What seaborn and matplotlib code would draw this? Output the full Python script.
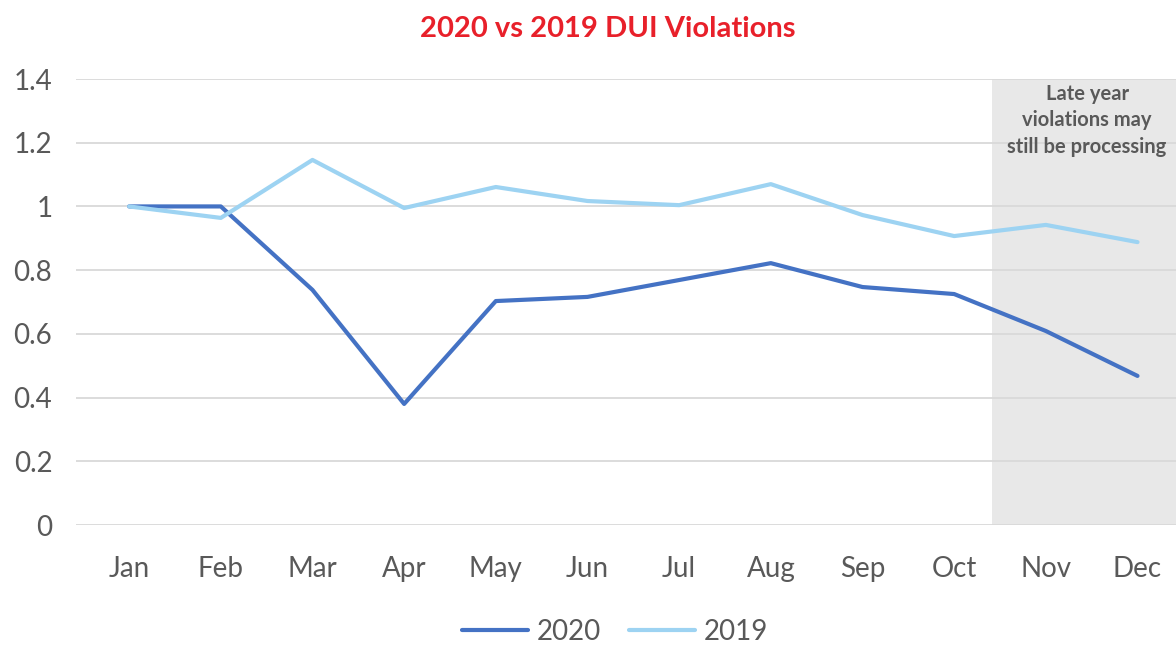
import pandas as pd
import seaborn as sns
import matplotlib.pyplot as plt

months = ['Jan', 'Feb', 'Mar', 'Apr', 'May', 'Jun', 'Jul', 'Aug', 'Sep', 'Oct', 'Nov', 'Dec']
v2020 = [1.0, 1.0, 0.738, 0.38, 0.703, 0.716, 0.769, 0.822, 0.747, 0.725, 0.609, 0.468]
v2019 = [1.0, 0.964, 1.146, 0.995, 1.061, 1.017, 1.004, 1.070, 0.973, 0.907, 0.942, 0.888]
years = ['2020', '2019']
colors = {'2020': '#4472C4', '2019': '#9DD3F2'}
y_ticks = [0, 0.2, 0.4, 0.6, 0.8, 1.0, 1.2, 1.4]
y_labels = ['0', '0.2', '0.4', '0.6', '0.8', '1', '1.2', '1.4']

df = pd.DataFrame({
    'month': months * 2,
    'value': v2020 + v2019,
    'year': ['2020'] * len(months) + ['2019'] * len(months),
})

sns.set_style('white')
plt.rcParams['font.family'] = ['Lato', 'DejaVu Sans']
grey = '#595959'

fig = plt.figure(figsize=(11.76, 6.46), dpi=100)
ax = fig.add_axes([0.0646, 0.1873, 0.9354, 0.6904])

# shaded "late year" region
ax.axvspan(9.41, 11.5, color='#E8E8E8', zorder=0, lw=0)

sns.lineplot(data=df, x='month', y='value', hue='year', hue_order=years,
             palette=colors, linewidth=3, sort=False, ax=ax, zorder=3)

ax.set_xlim(-0.58, 11.42)
ax.set_ylim(0, 1.4)
ax.set_yticks(y_ticks)
ax.set_yticklabels(y_labels)
ax.grid(axis='y', color='#D9D9D9', linewidth=1.3, zorder=1)
ax.set_axisbelow(True)
for s in ax.spines.values():
    s.set_visible(False)
ax.tick_params(axis='x', length=0, pad=22, labelsize=20, labelcolor=grey)
ax.tick_params(axis='y', length=0, pad=17, labelsize=20, labelcolor=grey)
ax.set_xlabel('')
ax.set_ylabel('')

ax.text(10.45, 1.385, 'Late year\nviolations may\nstill be processing',
        ha='center', va='top', fontsize=14.5, fontweight='bold',
        color=grey, linespacing=1.4, zorder=4)

fig.suptitle('2020 vs 2019 DUI Violations', x=0.517, y=0.975,
             fontsize=21, fontweight='bold', color='#E8202A')

ax.legend(title=None, loc='upper center', bbox_to_anchor=(0.49, -0.155),
          ncol=2, frameon=False, fontsize=20, labelcolor=grey,
          handlelength=2.4, handletextpad=0.3, columnspacing=1.0)

fig.savefig('out.png', dpi=100)
